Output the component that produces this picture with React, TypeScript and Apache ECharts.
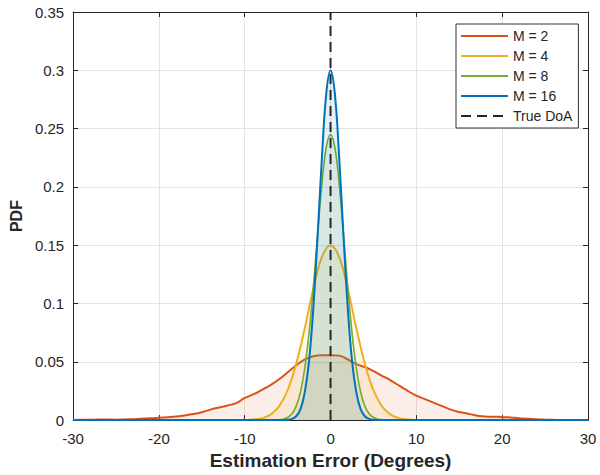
import React, { useEffect, useRef } from "react";
import * as echarts from "echarts";

// ---- Data ----
const xTicks = [-30, -20, -10, 0, 10, 20, 30];
const yTicks = [0, 0.05, 0.1, 0.15, 0.2, 0.25, 0.3, 0.35];

const xM2 = [-30, -28, -27, -25, -23, -21, -20, -19, -18, -17, -16, -15, -14, -13, -12, -11, -10, -9, -8, -7, -6, -5, -4, -3, -2, -1, 0, 1, 2, 3, 4, 5, 6, 7, 8, 9, 10, 11, 12, 13, 14, 15, 16, 17, 18, 19, 20, 21, 22, 23, 24, 25, 26, 27, 28, 30];
const yM2 = [0, 0.0003, 0.0005, 0.0004, 0.0008, 0.0015, 0.002, 0.0025, 0.003, 0.004, 0.0052, 0.0068, 0.009, 0.0108, 0.0125, 0.0145, 0.019, 0.022, 0.026, 0.030, 0.035, 0.041, 0.047, 0.052, 0.0548, 0.0557, 0.0557, 0.0553, 0.052, 0.048, 0.0455, 0.042, 0.038, 0.034, 0.0295, 0.025, 0.021, 0.018, 0.015, 0.012, 0.009, 0.007, 0.0055, 0.004, 0.003, 0.0028, 0.0027, 0.0022, 0.0016, 0.0012, 0.0007, 0.0004, 0.0002, 0.0001, 0, 0];

const xM4 = [-30, -12, -11, -10, -9, -8, -7, -6, -5, -4, -3, -2, -1, 0, 1, 2, 3, 4, 5, 6, 7, 8, 9, 10, 11, 12, 30];
const yM4 = [0, 0, 0, 0.0001, 0.0005, 0.0016, 0.0047, 0.0118, 0.0256, 0.0484, 0.079, 0.113, 0.140, 0.150, 0.140, 0.113, 0.079, 0.0484, 0.0256, 0.0118, 0.0047, 0.0016, 0.0005, 0.0001, 0, 0, 0];

const xM8 = [-30, -7, -6.5, -6, -5.5, -5, -4.5, -4, -3.5, -3, -2.5, -2, -1.5, -1, -0.5, 0, 0.5, 1, 1.5, 2, 2.5, 3, 3.5, 4, 4.5, 5, 5.5, 6, 6.5, 7, 30];
const yM8 = [0, 0, 0.0001, 0.0003, 0.0008, 0.0022, 0.0054, 0.012, 0.0243, 0.0449, 0.075, 0.115, 0.160, 0.203, 0.234, 0.245, 0.234, 0.203, 0.160, 0.115, 0.075, 0.0449, 0.0243, 0.012, 0.0054, 0.0022, 0.0008, 0.0003, 0.0001, 0, 0];

const xM16 = [-30, -6, -5.5, -5, -4.5, -4, -3.5, -3, -2.5, -2, -1.5, -1, -0.5, 0, 0.5, 1, 1.5, 2, 2.5, 3, 3.5, 4, 4.5, 5, 5.5, 6, 30];
const yM16 = [0, 0, 0.0001, 0.0003, 0.001, 0.0033, 0.0094, 0.024, 0.051, 0.097, 0.159, 0.226, 0.280, 0.300, 0.280, 0.226, 0.159, 0.097, 0.051, 0.024, 0.0094, 0.0033, 0.001, 0.0003, 0.0001, 0, 0];

const trueDoAX = [0, 0];
const trueDoAY = [0, 0.35];

const seriesNames = ["M = 2", "M = 4", "M = 8", "M = 16", "True DoA"];
const colors = ["#D95319", "#EDB120", "#77AC30", "#0072BD", "#262626"];

const zip = (xs: number[], ys: number[]) => xs.map((x, i) => [x, ys[i]]);

const FONT = "Liberation Sans, Arial, Helvetica, sans-serif";

export default function App() {
  const ref = useRef<HTMLDivElement>(null);

  useEffect(() => {
    if (!ref.current) return;
    const chart = echarts.init(ref.current, undefined, { renderer: "svg" });

    const curves = [
      { x: xM2, y: yM2, w: 2 },
      { x: xM4, y: yM4, w: 2 },
      { x: xM8, y: yM8, w: 1.6 },
      { x: xM16, y: yM16, w: 2 },
    ];

    const lineSeries: any[] = curves.map((c, i) => ({
      name: seriesNames[i],
      type: "line",
      data: zip(c.x, c.y),
      showSymbol: false,
      symbol: "none",
      smooth: 0.4,
      clip: true,
      color: colors[i],
      lineStyle: { color: colors[i], width: c.w },
      areaStyle: { color: colors[i], opacity: 0.1 },
      z: 2 + i,
    }));

    lineSeries.push({
      name: seriesNames[4],
      type: "line",
      data: zip(trueDoAX, trueDoAY),
      showSymbol: false,
      symbol: "none",
      color: colors[4],
      lineStyle: { color: colors[4], width: 2, type: [10, 6] },
      z: 10,
    });

    const axisLine = { show: true, onZero: false, lineStyle: { color: "#262626", width: 1 } };
    const axisTick = { show: true, inside: true, length: 5, lineStyle: { color: "#262626" } };
    const splitLine = { show: true, lineStyle: { color: "#e3e3e3", width: 1 } };
    const labelStyle = { color: "#262626", fontSize: 15, fontFamily: FONT };

    chart.setOption({
      animation: false,
      backgroundColor: "#ffffff",
      textStyle: { fontFamily: FONT },
      grid: { left: 72, right: 12, top: 12, bottom: 54, containLabel: false },
      legend: {
        show: true,
        data: seriesNames,
        orient: "vertical",
        left: 456,
        top: 24,
        padding: [5, 6, 5, 4],
        itemGap: 6,
        itemWidth: 47,
        itemHeight: 14,
        backgroundColor: "#ffffff",
        borderColor: "#333333",
        borderWidth: 1,
        borderRadius: 0,
        itemStyle: { opacity: 0, borderWidth: 0 },
        textStyle: { color: "#262626", fontSize: 14, fontFamily: FONT, padding: [0, 0, 0, 0] },
      },
      xAxis: [
        {
          type: "value",
          min: -30,
          max: 30,
          interval: 10,
          position: "bottom",
          name: "Estimation Error (Degrees)",
          nameLocation: "middle",
          nameGap: 30,
          nameTextStyle: { color: "#262626", fontSize: 19, fontWeight: "bold", fontFamily: FONT },
          axisLine,
          axisTick,
          splitLine,
          axisLabel: {
            ...labelStyle,
            margin: 11,
            formatter: (v: number) => (xTicks.includes(v) ? String(v) : ""),
          },
        },
        {
          type: "value",
          min: -30,
          max: 30,
          interval: 10,
          position: "top",
          axisLine,
          axisTick,
          splitLine: { show: false },
          axisLabel: { show: false },
        },
      ],
      yAxis: [
        {
          type: "value",
          min: 0,
          max: 0.35,
          interval: 0.05,
          position: "left",
          name: "PDF",
          nameLocation: "middle",
          nameGap: 48,
          nameTextStyle: { color: "#262626", fontSize: 16, fontWeight: "bold", fontFamily: FONT },
          axisLine,
          axisTick,
          splitLine,
          axisLabel: {
            ...labelStyle,
            margin: 9,
            formatter: (v: number) => {
              const t = yTicks.find((k) => Math.abs(k - v) < 1e-9);
              return t === undefined ? "" : String(Number(t.toFixed(2)));
            },
          },
        },
        {
          type: "value",
          min: 0,
          max: 0.35,
          interval: 0.05,
          position: "right",
          axisLine,
          axisTick,
          splitLine: { show: false },
          axisLabel: { show: false },
        },
      ],
      series: lineSeries,
    });

    return () => chart.dispose();
  }, []);

  return (
    <div
      ref={ref}
      style={{ position: "fixed", left: 0, top: 0, width: 600, height: 475, background: "#fff" }}
    />
  );
}
